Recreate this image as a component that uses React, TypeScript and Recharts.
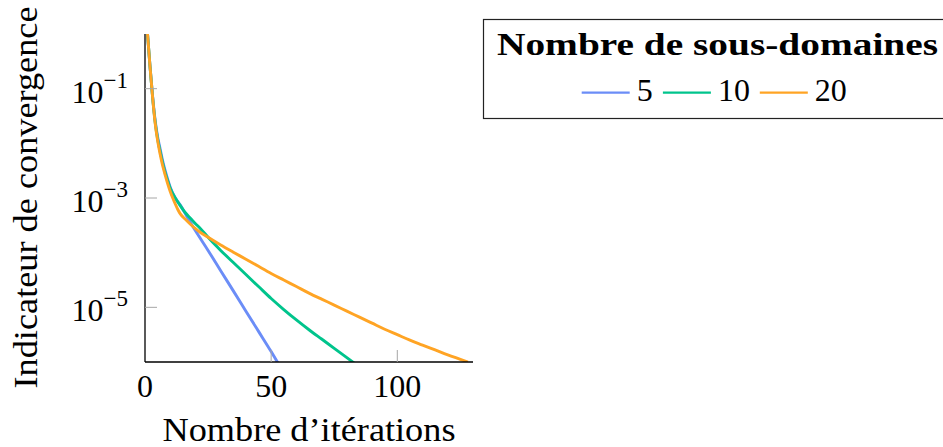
import { Legend, Line, LineChart, XAxis, YAxis } from 'recharts';

const FONT = '"Liberation Serif", "Times New Roman", serif';

// iterations and convergence indicator
const ITER_5 = [1, 2, 3, 4, 5, 6, 7, 8, 9, 10, 12, 14, 16, 18, 20, 25, 30, 35, 40, 45, 50, 53];
const VAL_5 = [
  1, 2.51e-1, 7.41e-2, 2.69e-2, 1.32e-2, 7.94e-3, 4.79e-3, 3.16e-3, 2.19e-3, 1.58e-3, 1.0e-3,
  7.41e-4, 5.13e-4, 3.55e-4, 2.51e-4, 1.1e-4, 4.68e-5, 2.0e-5, 8.51e-6, 3.63e-6, 1.55e-6, 9.1e-7,
];

const ITER_10 = [
  1, 2, 3, 4, 5, 6, 7, 8, 9, 10, 12, 14, 16, 18, 20, 22, 25, 30, 35, 40, 45, 50, 55, 60, 65, 70,
  75, 80, 83,
];
const VAL_10 = [
  1, 2.51e-1, 7.08e-2, 2.51e-2, 1.2e-2, 7.08e-3, 4.37e-3, 2.88e-3, 2.04e-3, 1.51e-3, 1.0e-3,
  7.24e-4, 5.37e-4, 4.27e-4, 3.39e-4, 2.75e-4, 1.91e-4, 1.1e-4, 6.61e-5, 3.98e-5, 2.4e-5,
  1.45e-5, 9.12e-6, 5.89e-6, 3.89e-6, 2.63e-6, 1.78e-6, 1.2e-6, 9.5e-7,
];

const ITER_20 = [
  1, 2, 3, 4, 5, 6, 7, 8, 9, 10, 11, 12, 13, 14, 16, 18, 20, 22, 25, 30, 35, 40, 45, 50, 55, 60,
  65, 70, 75, 80, 85, 90, 95, 100, 105, 110, 115, 120, 125, 128,
];
const VAL_20 = [
  1, 2.51e-1, 7.08e-2, 2.4e-2, 1.12e-2, 6.31e-3, 3.89e-3, 2.63e-3, 1.82e-3, 1.32e-3, 1.0e-3,
  7.76e-4, 6.17e-4, 5.13e-4, 4.07e-4, 3.31e-4, 2.75e-4, 2.34e-4, 1.91e-4, 1.38e-4, 1.02e-4,
  7.59e-5, 5.62e-5, 4.17e-5, 3.16e-5, 2.4e-5, 1.82e-5, 1.41e-5, 1.1e-5, 8.51e-6, 6.61e-6,
  5.13e-6, 3.98e-6, 3.16e-6, 2.51e-6, 2.04e-6, 1.66e-6, 1.35e-6, 1.12e-6, 1.0e-6,
];

const X_TICKS = [0, 50, 100];
const Y_TICKS = [1e-1, 1e-3, 1e-5];

const SERIES = [
  { key: 's5', name: '5', color: '#6b8df7', iters: ITER_5, values: VAL_5 },
  { key: 's10', name: '10', color: '#00c48c', iters: ITER_10, values: VAL_10 },
  { key: 's20', name: '20', color: '#ffa424', iters: ITER_20, values: VAL_20 },
];

// one row per iteration, each series filled where it has a reading
const allIters = Array.from(new Set(SERIES.flatMap((s) => s.iters))).sort((a, b) => a - b);
const data = allIters.map((it) => {
  const row: Record<string, number> = { it };
  SERIES.forEach((s) => {
    const i = s.iters.indexOf(it);
    if (i >= 0) row[s.key] = s.values[i];
  });
  return row;
});

function XTick({ x, y, payload }: any) {
  return (
    <g>
      {payload.value !== 0 && (
        <line x1={x} x2={x} y1={y} y2={y - 12} stroke="#a6a6a6" strokeWidth={1} />
      )}
      <text x={x} y={y + 35} textAnchor="middle" fontFamily={FONT} fontSize={32} fill="#000">
        {payload.value}
      </text>
    </g>
  );
}

function YTick({ x, y, payload }: any) {
  const exp = Math.round(Math.log10(payload.value));
  return (
    <g>
      <line x1={x} x2={x + 12} y1={y} y2={y} stroke="#a6a6a6" strokeWidth={1} />
      <text x={x - 17} y={y + 14} textAnchor="end" fontFamily={FONT} fontSize={32} fill="#000">
        10
        <tspan dy={-15} fontSize={23}>
          {'\u2212' + Math.abs(exp)}
        </tspan>
      </text>
    </g>
  );
}

function XTitle({ viewBox }: any) {
  if (!viewBox) return null;
  return (
    <text
      x={viewBox.x + viewBox.width / 2}
      y={viewBox.y + 79}
      textAnchor="middle"
      fontFamily={FONT}
      fontSize={33}
      textLength={293}
      lengthAdjust="spacingAndGlyphs"
      fill="#000"
    >
      Nombre d’itérations
    </text>
  );
}

function YTitle({ viewBox }: any) {
  if (!viewBox) return null;
  const cx = viewBox.x + 37;
  const cy = viewBox.y + viewBox.height / 2 - 0.5;
  return (
    <text
      x={cx}
      y={cy}
      transform={`rotate(-90, ${cx}, ${cy})`}
      textAnchor="middle"
      fontFamily={FONT}
      fontSize={33}
      textLength={382}
      lengthAdjust="spacingAndGlyphs"
      fill="#000"
    >
      Indicateur de convergence
    </text>
  );
}

function LegendBox() {
  let cursor = 98.7;
  const items = SERIES.map((s) => {
    const lineX = cursor;
    const textX = lineX + 55;
    cursor = textX + s.name.length * 15.7 + 10.5;
    return (
      <g key={s.name}>
        <line x1={lineX} x2={lineX + 48} y1={73.7} y2={73.7} stroke={s.color} strokeWidth={2.2} />
        <text x={textX} y={82} fontFamily={FONT} fontSize={32} fill="#000">
          {s.name}
        </text>
      </g>
    );
  });
  return (
    <svg width={470} height={100} style={{ display: 'block', overflow: 'visible' }}>
      <rect x={0.5} y={0.5} width={468} height={99} fill="#fff" stroke="#222" strokeWidth={1.2} />
      <text
        x={14}
        y={36}
        fontFamily={FONT}
        fontWeight="bold"
        fontSize={32}
        textLength={441}
        lengthAdjust="spacingAndGlyphs"
        fill="#000"
      >
        Nombre de sous-domaines
      </text>
      {items}
    </svg>
  );
}

export default function App() {
  return (
    <div style={{ position: 'absolute', left: 0, top: 0, background: '#fff' }}>
      <LineChart
        width={943}
        height={447}
        data={data}
        margin={{ top: 34, right: 470, bottom: 0, left: 0 }}
      >
        <XAxis
          type="number"
          dataKey="it"
          domain={[0, 130]}
          ticks={X_TICKS}
          height={85}
          tickSize={0}
          tickMargin={0}
          tickLine={false}
          axisLine={{ stroke: '#000', strokeWidth: 1.3 }}
          tick={<XTick />}
          allowDataOverflow
          label={{ content: XTitle }}
        />
        <YAxis
          type="number"
          scale="log"
          domain={[1e-6, 1]}
          ticks={Y_TICKS}
          width={145}
          tickSize={0}
          tickMargin={0}
          tickLine={false}
          axisLine={{ stroke: '#000', strokeWidth: 1.3 }}
          tick={<YTick />}
          allowDataOverflow
          label={{ content: YTitle }}
        />
        <Legend
          layout="horizontal"
          verticalAlign="middle"
          align="center"
          content={() => <LegendBox />}
          wrapperStyle={{ position: 'absolute', left: 483, top: 19, width: 470, height: 100 }}
        />
        {SERIES.map((s) => (
          <Line
            key={s.key}
            name={s.name}
            dataKey={s.key}
            type="monotone"
            stroke={s.color}
            strokeWidth={2.9}
            dot={false}
            connectNulls
            isAnimationActive={false}
          />
        ))}
      </LineChart>
    </div>
  );
}
